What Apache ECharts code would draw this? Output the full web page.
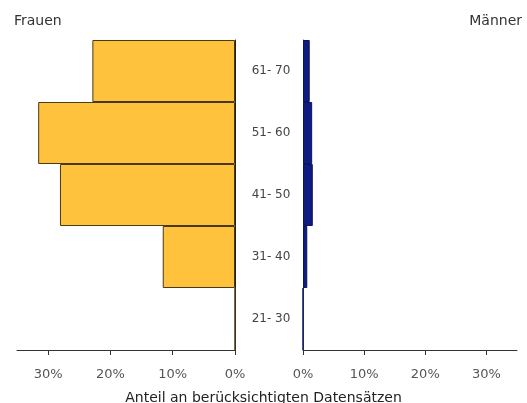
<!DOCTYPE html>
<html>
<head>
<meta charset="utf-8">
<script src="https://cdn.jsdelivr.net/npm/echarts@6/dist/echarts.min.js"></script>
<style>html,body{margin:0;padding:0;background:#fff}#c{width:527px;height:403px}</style>
</head>
<body>
<div id="c"></div>
<script>
const categories = ['21- 30', '31- 40', '41- 50', '51- 60', '61- 70'];
const frauen = [0, 11.6, 28.1, 31.6, 22.9];
const maenner = [0, 0.7, 1.6, 1.5, 1.1];
const tickValues = [0, 10, 20, 30];
const font = 'DejaVu Sans, sans-serif';

const chart = echarts.init(document.getElementById('c'));
const xAxisCommon = {
  type: 'value', min: 0, max: 35, interval: 10,
  splitLine: { show: false },
  axisLine: { show: true, lineStyle: { color: '#333', width: 1 } },
  axisTick: { show: true, length: 5, customValues: tickValues, lineStyle: { color: '#333' } },
  axisLabel: { customValues: tickValues, formatter: v => v + '%', margin: 18, color: '#555', fontSize: 13, fontFamily: font }
};
chart.setOption({
  animation: false,
  textStyle: { fontFamily: font },
  title: [
    { text: 'Frauen', left: 14, top: 14, padding: 0, textStyle: { fontSize: 14, fontWeight: 'normal', color: '#333', fontFamily: font } },
    { text: 'Männer', right: 5, top: 14, padding: 0, textStyle: { fontSize: 14, fontWeight: 'normal', color: '#333', fontFamily: font } },
    { text: 'Anteil an berücksichtigten Datensätzen', left: 'center', top: 391, padding: 0, textStyle: { fontSize: 14, fontWeight: 'normal', color: '#222', fontFamily: font } }
  ],
  grid: [
    { left: 17, top: 40, width: 218, height: 310, containLabel: false },
    { left: 303, top: 40, width: 214, height: 310, containLabel: false }
  ],
  xAxis: [
    Object.assign({ gridIndex: 0, inverse: true }, xAxisCommon),
    Object.assign({ gridIndex: 1 }, xAxisCommon)
  ],
  yAxis: [
    { type: 'category', gridIndex: 0, data: categories, position: 'right',
      axisLine: { show: true, lineStyle: { color: '#222' } }, axisTick: { show: false },
      axisLabel: { align: 'center', margin: 36, color: '#444', fontSize: 12, fontFamily: font } },
    { type: 'category', gridIndex: 1, data: categories, position: 'left',
      axisLine: { show: true, lineStyle: { color: '#555' } }, axisTick: { show: false },
      axisLabel: { show: false } }
  ],
  series: [
    { type: 'bar', xAxisIndex: 0, yAxisIndex: 0, data: frauen, barCategoryGap: '0%',
      itemStyle: { color: '#FEC23C', borderColor: '#4a3a14', borderWidth: 1 } },
    { type: 'bar', xAxisIndex: 1, yAxisIndex: 1, data: maenner, barCategoryGap: '0%',
      itemStyle: { color: '#0E1C82', borderColor: '#0a1460', borderWidth: 1 } }
  ]
});
</script>
</body>
</html>
